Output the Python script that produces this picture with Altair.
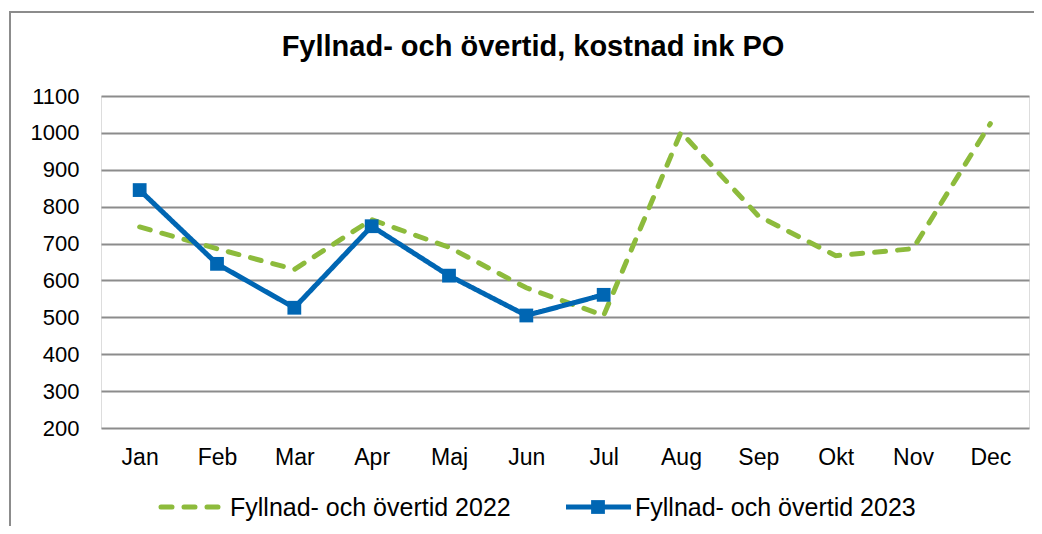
import altair as alt
import pandas as pd

months = ["Jan", "Feb", "Mar", "Apr", "Maj", "Jun", "Jul", "Aug", "Sep", "Okt", "Nov", "Dec"]
v2022 = [745, 686, 630, 765, 690, 580, 505, 1002, 775, 667, 686, 1025]
v2023 = [845, 645, 526, 747, 613, 505, 561]
s2022 = "Fyllnad- och övertid 2022"
s2023 = "Fyllnad- och övertid 2023"
title_text = "Fyllnad- och övertid, kostnad ink PO"

rows = [{"m": m, "v": v, "s": s2022} for m, v in zip(months, v2022)]
rows += [{"m": m, "v": v, "s": s2023} for m, v in zip(months, v2023)]
df = pd.DataFrame(rows)

FONT = "Liberation Sans"
W, H = 928, 332
GREEN, BLUE = "#8dbb3c", "#0066b3"
DASH = [11, 12]

x = alt.X("m:N", sort=months, title=None,
          scale=alt.Scale(paddingInner=0, paddingOuter=0.5),
          axis=alt.Axis(labelAngle=0, labelFontSize=23, labelFont=FONT, labelColor="#000",
                        domain=False, ticks=False, grid=False, labelPadding=18))
y = alt.Y("v:Q", title=None,
          scale=alt.Scale(domain=[200, 1100], nice=False, zero=False),
          axis=alt.Axis(values=list(range(200, 1101, 100)), format="d", labelFontSize=22,
                        labelFont=FONT, labelColor="#000", domain=False, ticks=False,
                        gridColor="#8c8c8c", gridWidth=2, labelPadding=22))

cscale = alt.Scale(domain=[s2022, s2023], range=[GREEN, BLUE])

lines = alt.Chart(df).mark_line(strokeWidth=5, strokeCap="round").encode(
    x=x, y=y, color=alt.Color("s:N", scale=cscale, legend=None),
    strokeDash=alt.StrokeDash("s:N", scale=alt.Scale(domain=[s2022, s2023], range=[DASH, [1, 0]]),
                              legend=None),
)
pts = alt.Chart(df[df.s == s2023]).mark_square(size=190, opacity=1, filled=True).encode(
    x=x, y=y, color=alt.Color("s:N", scale=cscale, legend=None)
)

one = pd.DataFrame({"a": [0]})
frame = alt.Chart(one).mark_rect(fill=None, stroke="#8c8c8c", strokeWidth=2).encode(
    x=alt.value(-91), x2=alt.value(1000), y=alt.value(-84), y2=alt.value(600)
)

title = alt.Chart(pd.DataFrame({"t": [title_text]})).mark_text(
    font=FONT, fontSize=29, fontWeight="bold", color="#000", align="center", baseline="middle"
).encode(text="t:N", x=alt.value(432), y=alt.value(-49))

LY = 411
leg_g = alt.Chart(one).mark_rule(color=GREEN, strokeWidth=5, strokeCap="round", strokeDash=DASH).encode(
    x=alt.value(60), x2=alt.value(124), y=alt.value(LY)
)
leg_b = alt.Chart(one).mark_rule(color=BLUE, strokeWidth=5).encode(
    x=alt.value(465), x2=alt.value(530), y=alt.value(LY)
)
leg_bs = alt.Chart(one).mark_square(color=BLUE, size=190, opacity=1, filled=True).encode(
    x=alt.value(497), y=alt.value(LY)
)
leg_t = alt.Chart(pd.DataFrame({"t": [s2022, s2023], "px": [129, 534]})).mark_text(
    font=FONT, fontSize=25, color="#000", align="left", baseline="middle"
).encode(text="t:N", x=alt.X("px:Q", scale=None), y=alt.value(LY + 1))

chart = alt.layer(frame, title, lines, pts, leg_g, leg_b, leg_bs, leg_t).properties(
    width=W, height=H,
    autosize=alt.AutoSizeParams(type="none"),
    padding={"left": 93, "top": 88, "right": 5, "bottom": 98},
).configure_view(stroke=None).configure(background="#ffffff")

chart.save("out.html", embed_options={"renderer": "svg", "actions": False})
